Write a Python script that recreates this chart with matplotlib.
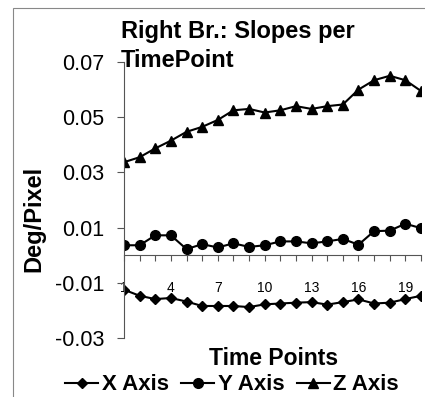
import numpy as np
import matplotlib
matplotlib.use('Agg')
import matplotlib.pyplot as plt
from matplotlib.patches import Rectangle

plt.rcParams['font.family'] = ['Liberation Sans', 'DejaVu Sans']

time_points = np.arange(1, 21)
x_axis = [-0.0125, -0.0147, -0.0159, -0.0155, -0.0168, -0.0184, -0.0184, -0.0184, -0.0188, -0.0178,
          -0.0175, -0.0172, -0.0170, -0.0179, -0.0170, -0.0160, -0.0175, -0.0172, -0.0159, -0.0147]
y_axis = [0.0036, 0.0036, 0.0072, 0.0072, 0.0022, 0.0040, 0.0028, 0.0043, 0.0030, 0.0036,
          0.0050, 0.0050, 0.0043, 0.0050, 0.0059, 0.0038, 0.0087, 0.0089, 0.0114, 0.0098]
z_axis = [0.0337, 0.0355, 0.0387, 0.0415, 0.0447, 0.0465, 0.0490, 0.0525, 0.0530, 0.0517,
          0.0525, 0.0540, 0.0530, 0.0540, 0.0546, 0.0600, 0.0634, 0.0650, 0.0634, 0.0595]
series_names = ['X Axis', 'Y Axis', 'Z Axis']
y_ticks = [-0.03, -0.01, 0.01, 0.03, 0.05, 0.07]

W, H = 425, 397
TICK_FS = 15.5
LABEL_FS = 17

fig = plt.figure(figsize=(W / 100, H / 100), dpi=100)
ax = fig.add_axes([124 / W, 1 - 338 / H, 297 / W, 276 / H])

ax.plot(time_points, x_axis, color='black', lw=1.5, marker='D', ms=5.5, label=series_names[0])
ax.plot(time_points, y_axis, color='black', lw=1.5, marker='o', ms=7, label=series_names[1])
ax.plot(time_points, z_axis, color='black', lw=1.5, marker='^', ms=7.5, label=series_names[2])

ax.set_xlim(1, 20)
ax.set_ylim(-0.03, 0.07)
ax.set_yticks(y_ticks)
ax.set_yticklabels(['%.2f' % v for v in y_ticks], fontsize=TICK_FS)
ax.set_xticks(time_points)
ax.set_xticklabels([str(t) if (t - 1) % 3 == 0 else '' for t in time_points], fontsize=TICK_FS)

for s in ['top', 'right']:
    ax.spines[s].set_visible(False)
ax.spines['bottom'].set_position(('data', 0))
ax.spines['left'].set_color('#555555')
ax.spines['bottom'].set_color('#555555')
ax.tick_params(axis='x', direction='out', length=4.5, pad=14, color='#555555')
ax.tick_params(axis='y', direction='out', length=5, pad=9, color='#555555')
ax.patch.set_alpha(0)

fig.text(121 / W, 1 - 38 / H, 'Right Br.: Slopes per', fontsize=LABEL_FS, fontweight='bold',
         ha='left', va='baseline')
fig.text(121 / W, 1 - 67 / H, 'TimePoint', fontsize=LABEL_FS, fontweight='bold',
         ha='left', va='baseline')
fig.text(34 / W, 1 - 219 / H, 'Deg/Pixel', fontsize=LABEL_FS, fontweight='bold', rotation=90,
         ha='center', va='center')
fig.text(274 / W, 1 - 365 / H, 'Time Points', fontsize=16.5, fontweight='bold',
         ha='center', va='baseline')

leg = fig.legend(loc='center', bbox_to_anchor=(232 / W, 1 - 385 / H), ncol=3, frameon=False,
                 prop={'weight': 'bold', 'size': 16}, handlelength=1.5, handletextpad=0.15,
                 columnspacing=0.55, borderpad=0)

fig.patches.append(Rectangle((13 / W, -0.1), 1.2, 1 - 8 / H + 0.1, transform=fig.transFigure,
                             fill=False, edgecolor='#888888', lw=0.8))

fig.savefig('out.png', dpi=100)
